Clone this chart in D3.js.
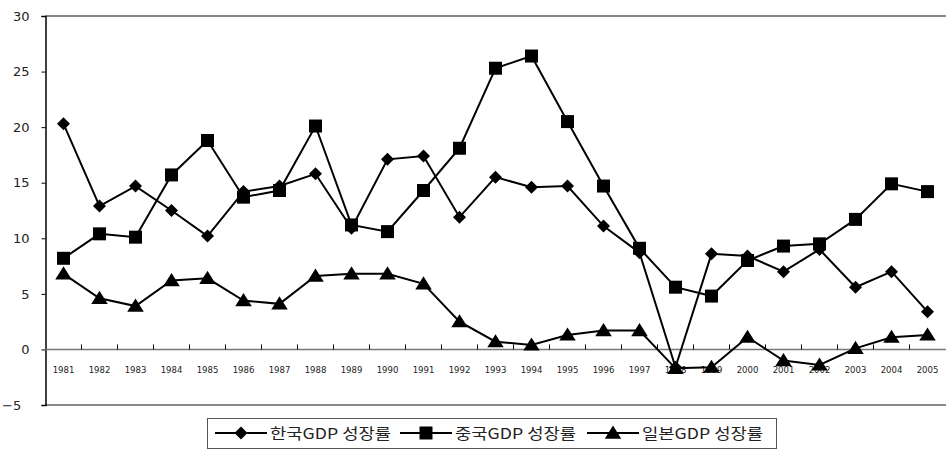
<!DOCTYPE html>
<html><head><meta charset="utf-8">
<script src="https://cdn.jsdelivr.net/npm/d3@7"></script>
<style>body{margin:0;background:#fff}svg{display:block}</style>
</head><body>
<svg id="c" width="946" height="451"></svg>
<script>
const years = ["1981","1982","1983","1984","1985","1986","1987","1988","1989","1990","1991","1992","1993","1994","1995","1996","1997","1998","1999","2000","2001","2002","2003","2004","2005"];
const korea = [20.3,12.9,14.7,12.5,10.2,14.2,14.7,15.8,10.9,17.1,17.4,11.9,15.5,14.6,14.7,11.1,8.7,-1.6,8.6,8.4,7.0,9.0,5.6,7.0,3.4];
const china = [8.2,10.4,10.1,15.7,18.8,13.7,14.3,20.1,11.2,10.6,14.3,18.1,25.3,26.4,20.5,14.7,9.1,5.6,4.8,8.0,9.3,9.5,11.7,14.9,14.2];
const japan = [6.8,4.6,3.9,6.2,6.4,4.4,4.1,6.6,6.8,6.8,5.9,2.5,0.7,0.4,1.3,1.7,1.7,-1.7,-1.6,1.1,-1.0,-1.4,0.1,1.1,1.3];
const seriesNames = ["한국GDP 성장률","중국GDP 성장률","일본GDP 성장률"];
const yTicks = [-5,0,5,10,15,20,25,30];
const yTickLabels = ["−5\u2007","0","5","10","15","20","25","30"];

const svg = d3.select("#c");
const L = 45.5, R = 945.5, T = 16, B = 405;
const x = d3.scaleBand().domain(years).range([L, R]).padding(0);
const y = d3.scaleLinear().domain([-5, 30]).range([B, T]);

// frame lines
svg.append("line").attr("x1", L).attr("x2", 946).attr("y1", T).attr("y2", T).attr("stroke", "#888").attr("stroke-width", 2);
svg.append("line").attr("x1", L).attr("x2", 946).attr("y1", B).attr("y2", B).attr("stroke", "#888").attr("stroke-width", 2);

// y axis
const yAxis = d3.axisLeft(y).tickValues(yTicks).tickSize(4).tickPadding(12)
  .tickFormat((d, i) => yTickLabels[i]);
const gy = svg.append("g").attr("transform", `translate(${L},0)`).call(yAxis);
gy.select(".domain").attr("stroke", "#000").attr("stroke-width", 1.5);
gy.selectAll(".tick line").attr("stroke", "#000");
gy.selectAll(".tick text").attr("font-family", "DejaVu Sans").attr("font-size", 13).attr("fill", "#222");

// zero line with category ticks
svg.append("line").attr("x1", L).attr("x2", 946).attr("y1", y(0)).attr("y2", y(0)).attr("stroke", "#777").attr("stroke-width", 1.5);
svg.append("g").selectAll("line").data(years.slice(1)).join("line")
  .attr("x1", d => x(d)).attr("x2", d => x(d))
  .attr("y1", y(0)).attr("y2", y(0) - 5).attr("stroke", "#000").attr("stroke-width", 1);
svg.append("g").selectAll("text").data(years).join("text")
  .attr("x", d => x(d) + x.bandwidth() / 2).attr("y", 373)
  .attr("text-anchor", "middle").attr("font-family", "DejaVu Sans").attr("font-size", 8.5).attr("fill", "#222")
  .text(d => d);

// markers
const diamond = s => `M0,${-s}L${s},0L0,${s}L${-s},0Z`;
const square = s => `M${-s},${-s}H${s}V${s}H${-s}Z`;
const triangle = s => `M0,${-s}L${s*1.1},${s*0.75}L${-s*1.1},${s*0.75}Z`;
const shapes = [() => diamond(6.5), () => square(6.5), () => triangle(7.5)];
const data = [korea, china, japan];

const line = d3.line().x((d, i) => x(years[i]) + x.bandwidth() / 2).y(d => y(d));
data.forEach((vals, si) => {
  svg.append("path").datum(vals).attr("d", line).attr("fill", "none").attr("stroke", "#000").attr("stroke-width", 2);
});
data.forEach((vals, si) => {
  svg.append("g").selectAll("path").data(vals).join("path")
    .attr("transform", (d, i) => `translate(${x(years[i]) + x.bandwidth() / 2},${y(d)})`)
    .attr("d", shapes[si]()).attr("fill", "#000");
});

// legend
const lg = svg.append("g");
lg.append("rect").attr("x", 207.5).attr("y", 418.5).attr("width", 569).attr("height", 30)
  .attr("fill", "#fff").attr("stroke", "#555").attr("stroke-width", 1);
const itemX = [215, 400, 587];
seriesNames.forEach((name, i) => {
  const g = lg.append("g").attr("transform", `translate(${itemX[i]},433)`);
  g.append("line").attr("x1", 0).attr("x2", 52).attr("stroke", "#000").attr("stroke-width", 2);
  g.append("path").attr("transform", "translate(26,0)").attr("d", shapes[i]()).attr("fill", "#000");
  g.append("text").attr("x", 55).attr("y", 5.5).attr("font-family", "Noto Sans CJK KR").attr("font-size", 15)
    .attr("textLength", 121).attr("lengthAdjust", "spacingAndGlyphs").attr("fill", "#222").text(name);
});
</script>
</body></html>
